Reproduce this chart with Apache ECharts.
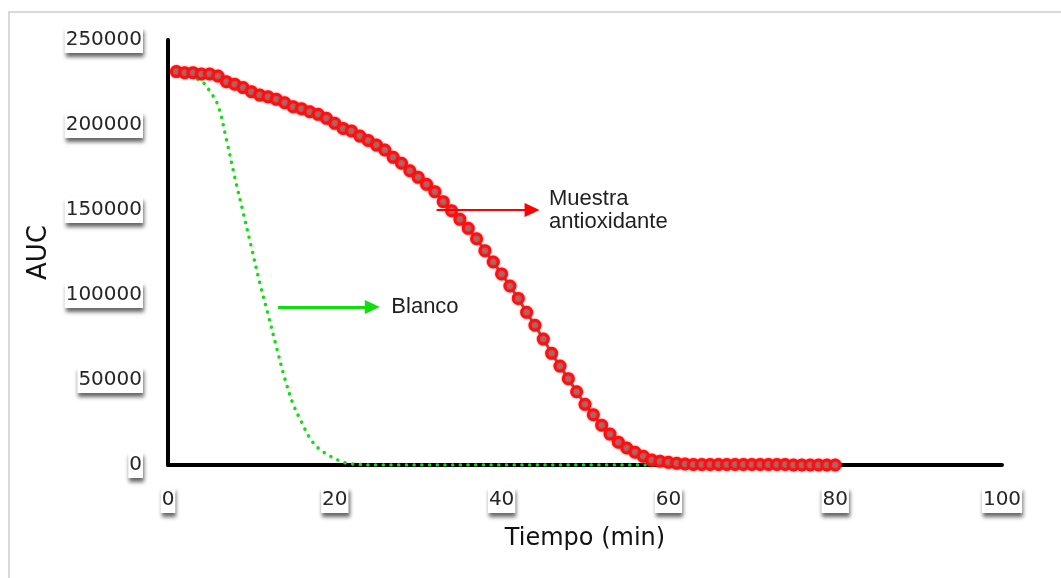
<!DOCTYPE html>
<html>
<head>
<meta charset="utf-8">
<style>
  html, body { margin: 0; padding: 0; background: #ffffff; }
  #chart { width: 1061px; height: 578px; }
</style>
<script src="https://cdn.jsdelivr.net/npm/echarts@6/dist/echarts.min.js"></script>
</head>
<body>
<div id="chart"></div>
<script>
// Tiempo (min) for each sample
const timeSample = Array.from({ length: 80 }, (_, i) => i + 1);

// AUC of the antioxidant sample, one reading per minute (1..80)
const aucMuestra = [
  231400, 230800, 230800, 230000, 230000, 228800, 225500, 224000, 222000, 219600,
  217600, 216600, 215100, 213100, 210800, 209600, 207800, 206300, 203900, 201000,
  198000, 196500, 193500, 190900, 188200, 185300, 181000, 177500, 173100, 169200,
  165100, 160800, 154900, 149600, 144500, 139200, 133100, 126100, 119400, 112400,
  105300, 98000, 89800, 82200, 74100, 65700, 58200, 50800, 43100, 35700,
  29600, 23400, 18200, 13400, 10000, 7500, 5100, 2900, 2200, 1600,
  1000, 600, 300, 300, 300, 300, 300, 300, 300, 300,
  300, 300, 300, 300, 0, 0, 0, 0, 0, 0
];

// AUC of the blank, one reading per minute (1..60)
const aucBlanco = [
  231400, 230800, 227800, 226000, 220000, 211500, 191500, 169400, 148800, 128000,
  107200, 88500, 69400, 50900, 35900, 25300, 15900, 10000, 6500, 3800,
  1650, 700, 300, 0, 0, 0, 0, 0, 0, 0,
  0, 0, 0, 0, 0, 0, 0, 0, 0, 0,
  0, 0, 0, 0, 0, 0, 0, 0, 0, 0,
  0, 0, 0, 0, 0, 0, 0, 0, 0, 0
];

// Annotation arrows: [x start, x end, AUC level]
const arrowMuestra = [32.2, 43.65, 150000];
const arrowBlanco = [13.2, 24.5, 93000];

const labelMuestra = 'Muestra\nantioxidante';
const labelBlanco = 'Blanco';

const xTicks = { min: 0, max: 100, interval: 20 };
const yTicks = { min: 0, max: 250000, interval: 50000 };

const muestraPoints = timeSample.map((t, i) => [t, aucMuestra[i]]);
const blancoPoints = aucBlanco.map((v, i) => [timeSample[i], v]);

const tickLabelStyle = {
  color: '#262626',
  fontFamily: 'DejaVu Sans',
  fontSize: 20,
  backgroundColor: '#ffffff',
  padding: [3, 1, 3, 1],
  shadowColor: 'rgba(0,0,0,0.6)',
  shadowBlur: 4,
  shadowOffsetX: 1,
  shadowOffsetY: 4,
  formatter: (v) => String(v)
};

function arrowLine(spec, color, width, text, dist) {
  return {
    silent: true,
    animation: false,
    symbol: ['none', 'triangle'],
    symbolSize: [14, 15],
    lineStyle: { color: color, width: width, type: 'solid' },
    itemStyle: { color: color },
    label: {
      show: true,
      position: 'end',
      distance: dist,
      formatter: text,
      color: '#1f1f1f',
      fontFamily: 'Liberation Sans',
      fontSize: 22,
      lineHeight: 23,
      align: 'left'
    },
    emphasis: { disabled: true },
    data: [[
      { coord: [spec[0], spec[2]] },
      { coord: [spec[1], spec[2]] }
    ]]
  };
}

const chart = echarts.init(document.getElementById('chart'), null, { renderer: 'canvas' });

chart.setOption({
  backgroundColor: '#ffffff',
  animation: false,
  graphic: [{
    type: 'rect',
    z: -10,
    shape: { x: 9, y: 12, width: 1100, height: 620 },
    style: { fill: 'none', stroke: '#d9d9d9', lineWidth: 2 }
  }],
  grid: { left: 168, right: 59, top: 40, bottom: 113, containLabel: false },
  xAxis: {
    type: 'value',
    min: xTicks.min,
    max: xTicks.max,
    interval: xTicks.interval,
    name: 'Tiempo (min)',
    nameLocation: 'middle',
    nameGap: 62,
    nameTextStyle: { color: '#111111', fontFamily: 'DejaVu Sans', fontSize: 24 },
    axisLine: { show: true, onZero: false, lineStyle: { color: '#000000', width: 4 } },
    axisTick: { show: false },
    splitLine: { show: false },
    axisLabel: Object.assign({ margin: 22 }, tickLabelStyle)
  },
  yAxis: {
    type: 'value',
    min: yTicks.min,
    max: yTicks.max,
    interval: yTicks.interval,
    name: 'AUC',
    nameLocation: 'middle',
    nameGap: 116,
    nameRotate: 90,
    nameTextStyle: { color: '#111111', fontFamily: 'DejaVu Sans', fontSize: 26 },
    axisLine: { show: true, lineStyle: { color: '#000000', width: 4 } },
    axisTick: { show: false },
    splitLine: { show: false },
    axisLabel: Object.assign({ margin: 25 }, tickLabelStyle)
  },
  series: [
    {
      name: 'Blanco',
      type: 'line',
      data: blancoPoints,
      smooth: 0.35,
      showSymbol: false,
      symbol: 'none',
      lineStyle: { color: '#11dd11', width: 3.5, type: [0.1, 7.6], cap: 'round' },
      z: 3,
      markLine: arrowLine(arrowBlanco, '#11dd11', 3, labelBlanco, 19)
    },
    {
      name: 'Muestra antioxidante',
      type: 'line',
      data: muestraPoints,
      symbol: 'circle',
      symbolSize: 10,
      lineStyle: { color: '#a84c4c', width: 3 },
      itemStyle: {
        color: '#b06464', borderColor: '#ff1010', borderWidth: 3,
        shadowColor: 'rgba(255,0,0,0.6)', shadowBlur: 2
      },
      z: 4,
      markLine: arrowLine(arrowMuestra, '#ff0000', 2, labelMuestra, 17)
    }
  ]
});
</script>
</body>
</html>
